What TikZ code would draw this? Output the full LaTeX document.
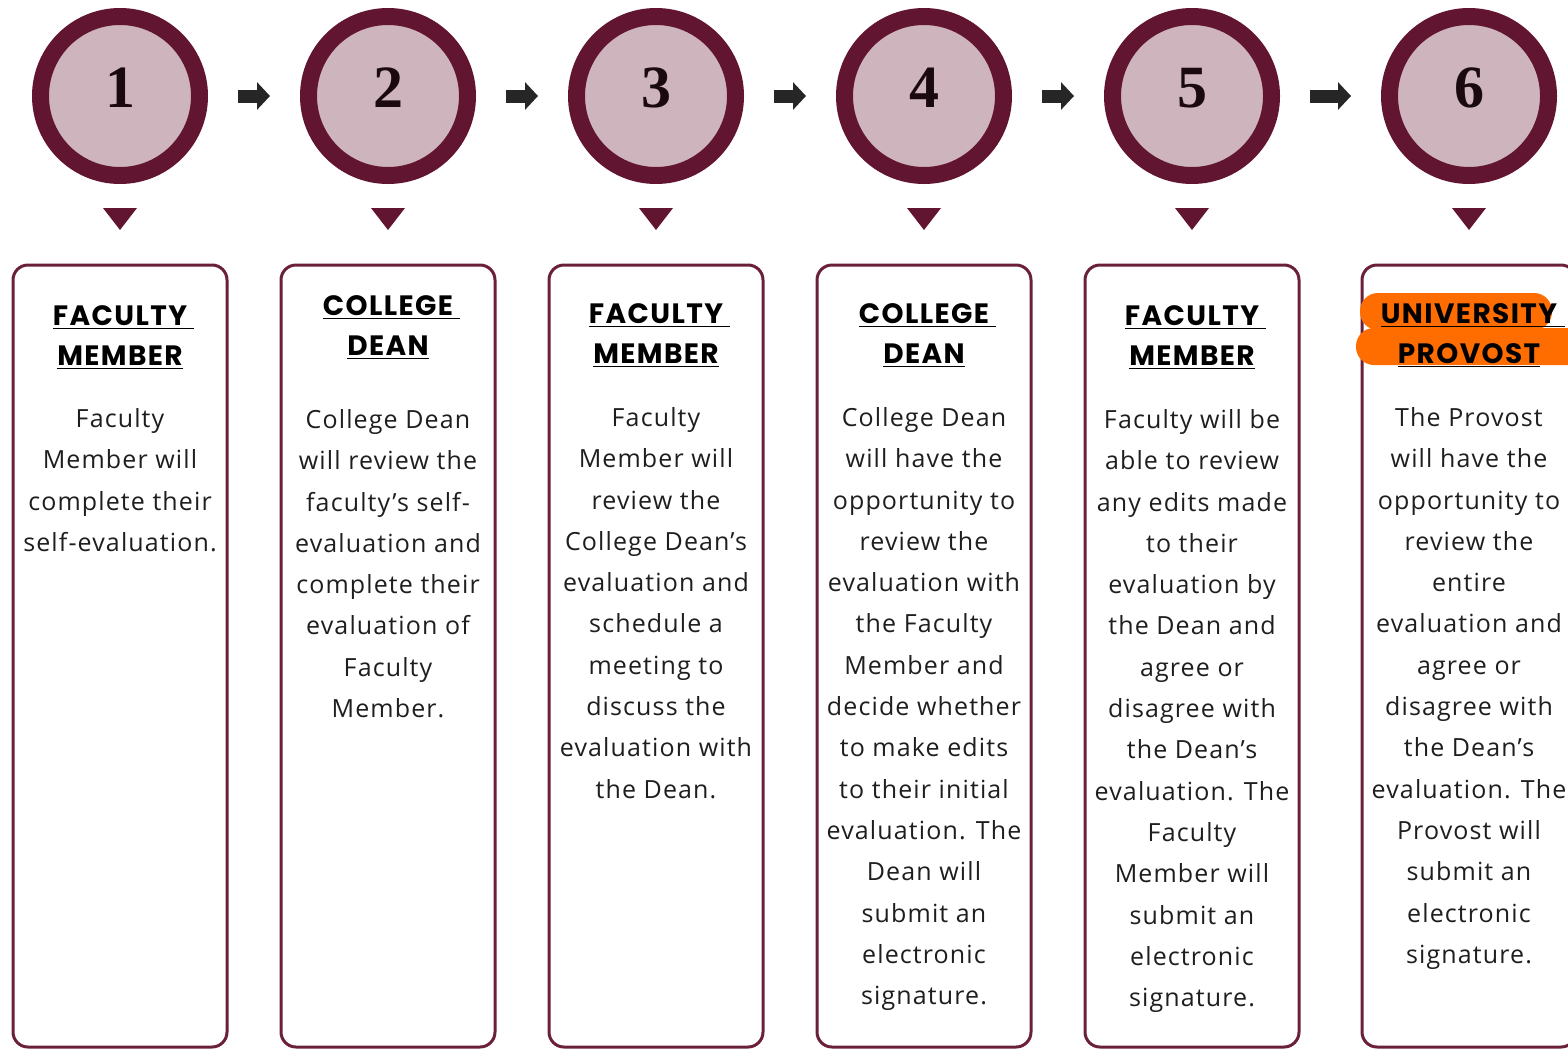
\documentclass[tikz,border=0pt]{standalone}
\usepackage{fontspec}
\usetikzlibrary{arrows.meta}
\setmainfont{Open Sans}[LetterSpace=4.5]
\newfontfamily\headfont{Poppins}[LetterSpace=5]
\newfontfamily\numfont{Liberation Serif}
\definecolor{maroon}{HTML}{621530}
\definecolor{rose}{HTML}{CEB4BC}
\definecolor{boxline}{HTML}{6A1F3A}
\definecolor{hilite}{HTML}{FF6D00}
\definecolor{ink}{HTML}{1E1E1E}
\definecolor{numink}{HTML}{1A0A10}
\definecolor{arrowink}{HTML}{262626}
\newcommand\ulsp{\rlap{\underline{\ }}}

\begin{document}
\begin{tikzpicture}[x=0.5pt,y=-0.5pt,
    badge/.style={circle,draw=maroon,fill=rose,line width=8.5pt,minimum size=79.5pt,
      inner sep=0pt,text depth=8pt,text=numink,font=\numfont\bfseries\fontsize{30}{30}\selectfont},
    card/.style={draw=boxline,line width=1.5pt,rounded corners=7.5pt,
      minimum width=107pt,minimum height=391pt,inner sep=0pt},
    headtxt/.style={anchor=north,align=center,inner sep=0pt,text=black,
      font=\headfont\bfseries\fontsize{14}{20}\selectfont},
    bodytxt/.style={anchor=north,align=center,inner sep=0pt,text=ink,
      font=\fontsize{12.5}{20.65}\selectfont},
    flow/.style={draw=arrowink,line width=6.5pt,-{Triangle[length=6.5pt,width=13.5pt]},
      shorten <=15pt,shorten >=15pt}]
  \useasboundingbox (0,0) rectangle (1568,1050);
  \foreach \i/\x/\hy/\by/\ha/\hb/\txt in {%
    1/120/305/408/FACULTY/MEMBER/{Faculty\\Member will\\complete their\\self-evaluation.},
    2/388/295/409/COLLEGE/DEAN/{College Dean\\will review the\\faculty’s self-\\evaluation and\\complete their\\evaluation of\\Faculty\\Member.},
    3/656/303/407/FACULTY/MEMBER/{Faculty\\Member will\\review the\\College Dean’s\\evaluation and\\schedule a\\meeting to\\discuss the\\evaluation with\\the Dean.},
    4/924/303/407/COLLEGE/DEAN/{College Dean\\will have the\\opportunity to\\review the\\evaluation with\\the Faculty\\Member and\\decide whether\\to make edits\\to their initial\\evaluation. The\\Dean will\\submit an\\electronic\\signature.},
    5/1192/305/409/FACULTY/MEMBER/{Faculty will be\\able to review\\any edits made\\to their\\evaluation by\\the Dean and\\agree or\\disagree with\\the Dean’s\\evaluation. The\\Faculty\\Member will\\submit an\\electronic\\signature.},
    6/1469/303/407/UNIVERSITY/PROVOST/{The Provost\\will have the\\opportunity to\\review the\\entire\\evaluation and\\agree or\\disagree with\\the Dean’s\\evaluation. The\\Provost will\\submit an\\electronic\\signature.}}{
    \node[badge] (c\i) at (\x,96) {\i};
    \fill[maroon] (\x-17,208) -- (\x+17,208) -- (\x,230) -- cycle;
    \node[card] (b\i) at (\x,656) {};
    \ifnum\i=6
      \fill[hilite,rounded corners=9pt] (1360,293) rectangle (1552,330);
      \fill[hilite,rounded corners=9pt] (1356,328) rectangle (1600,365);
    \fi
    \node[headtxt] (h\i) at (\x,\hy) {\underline{\ha}\ulsp\\\underline{\hb}};
    \node[bodytxt] (t\i) at (\x,\by) {\txt};}
  \foreach \a/\b in {1/2,2/3,3/4,4/5,5/6}
    \draw[flow] (c\a) -- (c\b);
\end{tikzpicture}
\end{document}
